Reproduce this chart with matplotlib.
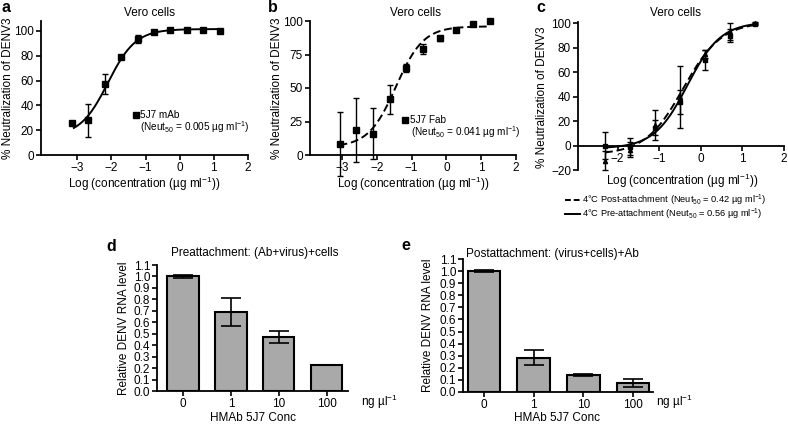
import numpy as np
import matplotlib
matplotlib.use('Agg')
import matplotlib.pyplot as plt

plt.rcParams['font.family'] = ['Liberation Sans', 'DejaVu Sans']
plt.rcParams['mathtext.fontset'] = 'custom'
plt.rcParams['mathtext.rm'] = 'Liberation Sans'
plt.rcParams['mathtext.default'] = 'regular'
plt.rcParams['font.size'] = 8

W, H = 788, 424
FS = 8.5

# panel a - 5J7 mAb
log_conc_a = [-3.15, -2.67, -2.19, -1.71, -1.23, -0.75, -0.27, 0.21, 0.69, 1.17]
neut_a = [25.7, 28.0, 57.5, 79.0, 93.2, 99.2, 100.8, 100.5, 101.0, 99.7]
err_a = [1.0, 13.5, 8.0, 1.0, 3.3, 1.0, 0.8, 0.8, 0.8, 1.0]
fit_a = dict(bottom=15.0, top=101.5, ec=-2.1, hill=1.07)

# panel b - 5J7 Fab
log_conc_b = [-3.07, -2.59, -2.11, -1.63, -1.15, -0.67, -0.19, 0.29, 0.77, 1.25]
neut_b = [8.0, 18.7, 16.0, 41.5, 65.0, 79.0, 87.0, 93.0, 98.0, 100.0]
err_b = [24.0, 24.0, 19.0, 11.0, 3.0, 3.5, 2.0, 1.5, 1.0, 0.5]
fit_b = dict(bottom=6.0, top=96.0, ec=-1.45, hill=1.1)

# panel c - 4C post/pre attachment
log_conc_c = [-2.3, -1.7, -1.1, -0.5, 0.1, 0.7, 1.3]
neut_post = [-12.0, -3.0, 17.0, 40.0, 75.0, 93.0, 100.0]
err_post = [8.0, 6.0, 12.0, 25.0, 3.0, 7.0, 1.0]
neut_pre = [0.0, -0.5, 15.0, 36.0, 70.0, 90.0, 99.5]
err_pre = [11.0, 7.0, 6.0, 10.0, 8.0, 5.0, 1.0]
fit_post = dict(bottom=-7.0, top=101.0, ec=-0.42, hill=0.95)
fit_pre = dict(bottom=-2.0, top=101.0, ec=-0.32, hill=1.08)

# panels d, e - RNA levels
conc_labels = ['0', '1', '10', '100']
rna_pre = [1.0, 0.69, 0.47, 0.23]
rna_pre_err = [0.01, 0.125, 0.05, 0.0]
rna_post = [1.0, 0.285, 0.14, 0.075]
rna_post_err = [0.01, 0.065, 0.01, 0.03]


def logistic(x, bottom, top, ec, hill):
    return bottom + (top - bottom) / (1 + 10 ** ((ec - x) * hill))


def rect(x0, y0, x1, y1):
    # pixel box -> figure fraction
    return [x0 / W, 1 - y1 / H, (x1 - x0) / W, (y1 - y0) / H]


def ftext(x, y, s, **kw):
    fig.text(x / W, 1 - y / H, s, **kw)


def fmark(x, y):
    fig.add_artist(plt.Line2D([x / W], [1 - y / H], marker='s', color='black', ms=4, ls='none'))


def style(ax):
    for s in ['top', 'right']:
        ax.spines[s].set_visible(False)
    for s in ['left', 'bottom']:
        ax.spines[s].set_linewidth(1.3)
    ax.tick_params(direction='out', length=3.5, width=1.2, labelsize=FS, pad=1.5)


fig = plt.figure(figsize=(W / 100, H / 100), dpi=100)

# ---- a ----
ax = fig.add_axes(rect(41, 21, 248, 155))
style(ax)
xx = np.linspace(log_conc_a[0] + 0.05, log_conc_a[-1] + 0.03, 200)
ax.plot(xx, logistic(xx, **fit_a), color='black', lw=1.4)
ax.errorbar(log_conc_a, neut_a, yerr=err_a, fmt='s', color='black', ms=4,
            capsize=2.5, elinewidth=1, clip_on=False)
ax.set_xlim(-4.06, 2)
ax.set_ylim(0, 108)
ax.set_xticks([-3, -2, -1, 0, 1, 2])
ax.set_yticks([0, 20, 40, 60, 80, 100])

ftext(150, 13, 'Vero cells', ha='center', va='center', fontsize=FS)
ftext(1, 7, 'a', ha='left', va='center', fontsize=11.5, fontweight='bold')
ftext(8, 88, '% Neutralization of DENV3', rotation=90, ha='center', va='center', fontsize=FS)
ftext(144, 184, 'Log (concentration (µg ml$^{-1}$))', ha='center', va='center', fontsize=FS)
fmark(136, 115)
ftext(140, 115, '5J7 mAb', ha='left', va='center', fontsize=7.2)
ftext(140, 127.5, '(Neut$_{50}$ = 0.005 µg ml$^{-1}$)', ha='left', va='center', fontsize=7.2)

# ---- b ----
ax = fig.add_axes(rect(310, 21, 516, 155))
style(ax)
xx = np.linspace(log_conc_b[0], log_conc_b[-1], 200)
ax.plot(xx, logistic(xx, **fit_b), color='black', lw=1.4, ls=(0, (4, 2)))
ax.errorbar(log_conc_b, neut_b, yerr=err_b, fmt='s', color='black', ms=4,
            capsize=2.5, elinewidth=1, clip_on=False)
ax.set_xlim(-3.92, 2)
ax.set_ylim(0, 100)
ax.set_xticks([-3, -2, -1, 0, 1, 2])
ax.set_yticks([0, 25, 50, 75, 100])

ftext(415, 13, 'Vero cells', ha='center', va='center', fontsize=FS)
ftext(268, 7, 'b', ha='left', va='center', fontsize=11.5, fontweight='bold')
ftext(277, 88, '% Neutralization of DENV3', rotation=90, ha='center', va='center', fontsize=FS)
ftext(413, 184, 'Log (concentration (µg ml$^{-1}$))', ha='center', va='center', fontsize=FS)
fmark(405, 120)
ftext(410, 120, '5J7 Fab', ha='left', va='center', fontsize=7.2)
ftext(411, 132.5, '(Neut$_{50}$ = 0.041 µg ml$^{-1}$)', ha='left', va='center', fontsize=7.2)

# ---- c ----
ax = fig.add_axes(rect(578, 22, 784, 170.5))
style(ax)
ax.spines['bottom'].set_position(('data', 0))
xx = np.linspace(log_conc_c[0], log_conc_c[-1], 200)
ax.plot(xx, logistic(xx, **fit_post), color='black', lw=1.4, ls=(0, (4, 2)))
ax.plot(xx, logistic(xx, **fit_pre), color='black', lw=1.4)
ax.errorbar(log_conc_c, neut_post, yerr=err_post, fmt='^', color='black', ms=3,
            capsize=2.5, elinewidth=1, clip_on=False)
ax.errorbar(log_conc_c, neut_pre, yerr=err_pre, fmt='s', color='black', ms=3.5,
            capsize=2.5, elinewidth=1, clip_on=False)
ax.set_xlim(-2.95, 2)
ax.set_ylim(-20, 101)
ax.set_xticks([-2, -1, 0, 1, 2])
ax.set_yticks([-20, 0, 20, 40, 60, 80, 100])

ftext(676, 13, 'Vero cells', ha='center', va='center', fontsize=FS)
ftext(536, 7, 'c', ha='left', va='center', fontsize=11.5, fontweight='bold')
ftext(542, 97, '% Neutralization of DENV3', rotation=90, ha='center', va='center', fontsize=FS)
ftext(682, 181, 'Log (concentration (µg ml$^{-1}$))', ha='center', va='center', fontsize=FS)
fig.add_artist(plt.Line2D([565 / W, 580 / W], [1 - 200 / H] * 2, color='black', lw=1.4, ls=(0, (3, 1.5))))
fig.add_artist(plt.Line2D([565 / W, 580 / W], [1 - 214 / H] * 2, color='black', lw=1.4))
ftext(582, 200, '4°C Post-attachment (Neut$_{50}$ = 0.42 µg ml$^{-1}$)', ha='left', va='center', fontsize=6.7)
ftext(582, 214, '4°C Pre-attachment (Neut$_{50}$ = 0.56 µg ml$^{-1}$)', ha='left', va='center', fontsize=6.7)


# ---- d, e ----
def bar_panel(box, vals, errs, title, letter, title_xy, letter_xy, ylab_x, xlab_xy, unit_xy, xlim):
    ax = fig.add_axes(rect(*box))
    style(ax)
    pos = np.arange(len(vals))
    ax.bar(pos, vals, width=0.65, color='#a9a9a9', edgecolor='black', linewidth=1.5, zorder=2)
    ax.errorbar(pos, vals, yerr=errs, fmt='none', ecolor='black', elinewidth=1.2,
                capsize=7, capthick=1.2, zorder=3)
    ax.set_xlim(*xlim)
    ax.set_ylim(0, 1.1)
    ax.set_yticks(np.arange(0, 1.11, 0.1))
    ax.set_yticklabels(['%.1f' % v for v in np.arange(0, 1.11, 0.1)])
    ax.set_xticks(pos)
    ax.set_xticklabels(conc_labels)
    ax.tick_params(axis='x', pad=1.5)
    ftext(title_xy[0], title_xy[1], title, ha='center', va='center', fontsize=FS)
    ftext(letter_xy[0], letter_xy[1], letter, ha='left', va='center', fontsize=11.5, fontweight='bold')
    ftext(ylab_x, (box[1] + box[3]) / 2, 'Relative DENV RNA level', rotation=90,
          ha='center', va='center', fontsize=FS)
    ftext(xlab_xy[0], xlab_xy[1], 'HMAb 5J7 Conc', ha='center', va='center', fontsize=FS)
    ftext(unit_xy[0], unit_xy[1], 'ng µl$^{-1}$', ha='left', va='center', fontsize=FS)


bar_panel((157, 265, 348, 391), rna_pre, rna_pre_err, 'Preattachment: (Ab+virus)+cells', 'd',
          (255, 253), (106, 246), 124, (253, 418), (361, 402), (-0.54, 3.44))
bar_panel((463, 259, 653, 392), rna_post, rna_post_err, 'Postattachment: (virus+cells)+Ab', 'e',
          (552, 254), (401, 245), 428, (557, 418), (656, 402), (-0.42, 3.4))

fig.savefig('out.png', dpi=100)
